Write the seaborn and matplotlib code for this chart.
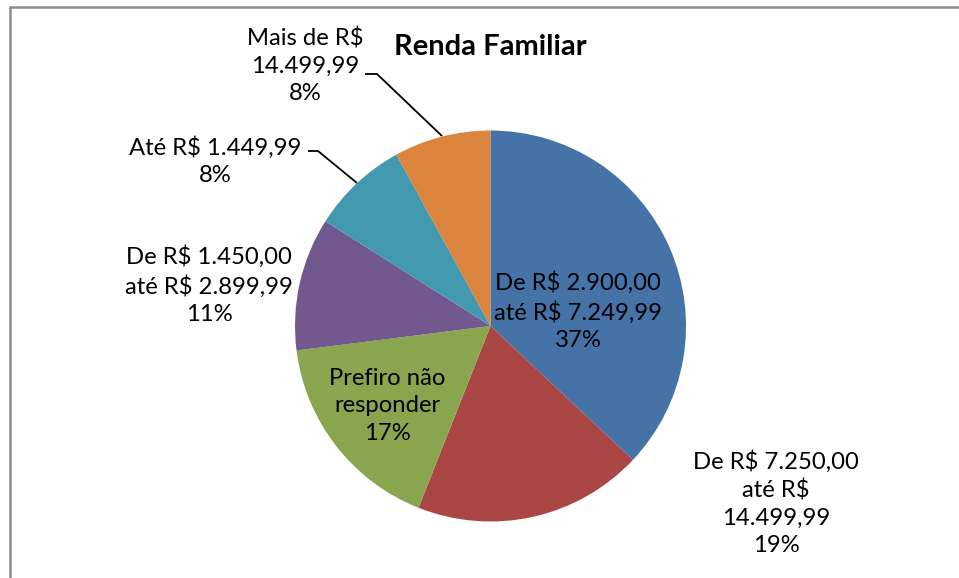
import matplotlib
matplotlib.use("Agg")
import matplotlib.pyplot as plt
import seaborn as sns
from matplotlib.lines import Line2D

# ---- data ----
categories = [
    "De R$ 2.900,00\naté R$ 7.249,99",
    "De R$ 7.250,00\naté R$\n14.499,99",
    "Prefiro não\nresponder",
    "De R$ 1.450,00\naté R$ 2.899,99",
    "Até R$ 1.449,99",
    "Mais de R$\n14.499,99",
]
values = [37, 19, 17, 11, 8, 8]
colors = ["#4572A7", "#AA4643", "#89A54E", "#71588F", "#4198AF", "#DB843D"]
title = "Renda Familiar"

# ---- layout (pixel coords, origin top-left) ----
W, H = 959, 578
center_px = (490.5, 326)
radius_px = 195.5
label_pos = [(578, 311), (776, 503), (387, 406), (209, 285), (215, 161), (305, 66)]
leaders = [None, None, None, None,
           [(308, 151), (318, 151), (357, 183)],
           [(365, 74), (377, 74), (442, 136)]]

sns.set_style("white")
plt.rcParams["font.family"] = ["Lato", "DejaVu Sans"]

fig = plt.figure(figsize=(W / 100, H / 100), dpi=100)
ax = fig.add_axes([0, 0, 1, 1])

def Y(y):
    return H - y

ax.pie(values, colors=colors, startangle=90, counterclock=False,
       center=(center_px[0], Y(center_px[1])), radius=radius_px, frame=True,
       wedgeprops=dict(linewidth=0))
ax.set_xlim(0, W)
ax.set_ylim(0, H)
ax.set_aspect("equal")
ax.axis("off")

for cat, v, (lx, ly), ld in zip(categories, values, label_pos, leaders):
    ax.text(lx, Y(ly), f"{cat}\n{v}%", ha="center", va="center",
            multialignment="center", fontsize=17.2, linespacing=1.37, color="black")
    if ld:
        xs = [p[0] for p in ld]
        ys = [Y(p[1]) for p in ld]
        ax.plot(xs, ys, color="black", lw=1.3, solid_capstyle="butt")

ax.text(490.5, Y(47), title, ha="center", va="center", fontsize=21,
        fontweight="bold", color="black")

# chart area border (top and left edges visible)
fig.add_artist(Line2D([9.5 / W, 9.5 / W], [0, 1 - 6.5 / H], transform=fig.transFigure,
                      color="#8c8c8c", lw=1.8))
fig.add_artist(Line2D([9.5 / W, 1], [1 - 6.5 / H, 1 - 6.5 / H], transform=fig.transFigure,
                      color="#8c8c8c", lw=1.8))

fig.savefig("out.png", dpi=100, facecolor="white")
